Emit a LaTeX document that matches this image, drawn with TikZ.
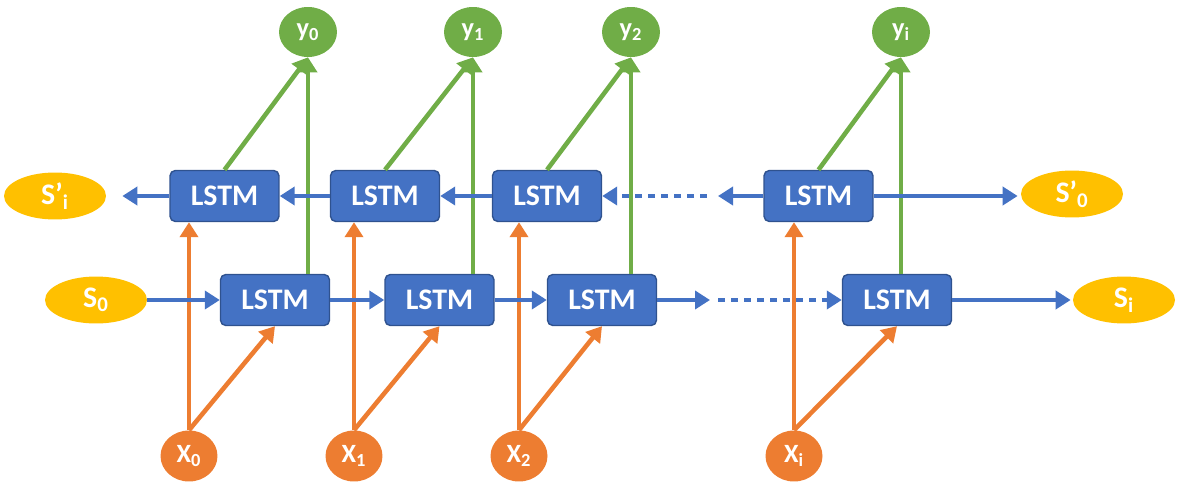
\documentclass[tikz,border=0pt]{standalone}
\usepackage{fontspec}
\setmainfont{Carlito}
\usetikzlibrary{arrows.meta,shapes.geometric}
\definecolor{lstmblue}{HTML}{4472C4}
\definecolor{lstmedge}{HTML}{2F528F}
\definecolor{outgreen}{HTML}{70AD47}
\definecolor{inorange}{HTML}{ED7D31}
\definecolor{stategold}{HTML}{FFC000}

\begin{document}
\begin{tikzpicture}[x=0.02cm,y=-0.02cm]
\tikzset{cell/.style = {shape=rectangle,rounded corners=3pt,draw=lstmedge,line width=0.8pt,fill=lstmblue,text=white,font=\fontsize{17}{20}\selectfont\bfseries,minimum width=2.18cm,minimum height=1.02cm}}
\tikzset{state/.style = {shape=ellipse,fill=stategold,text=white,font=\fontsize{17}{20}\selectfont\bfseries,minimum width=2.04cm,minimum height=0.94cm,inner sep=0pt}}
\tikzset{outp/.style = {shape=ellipse,fill=outgreen,text=white,font=\fontsize{15}{18}\selectfont\bfseries,minimum width=1.16cm,minimum height=1.0cm,inner sep=0pt}}
\tikzset{inp/.style = {shape=ellipse,fill=inorange,text=white,font=\fontsize{15}{18}\selectfont\bfseries,minimum width=1.14cm,minimum height=1.02cm,inner sep=0pt}}
\tikzset{flow/.style = {draw=lstmblue,line width=2.3pt,-{Triangle[length=0.3cm,width=0.36cm]}}}
\tikzset{dots/.style = {draw=lstmblue,line width=2.3pt,dash pattern=on 4pt off 3.4pt,-{Triangle[length=0.3cm,width=0.36cm]}}}
\tikzset{up/.style = {draw=outgreen,line width=2.6pt,-{Triangle[length=0.3cm,width=0.36cm]}}}
\tikzset{feed/.style = {draw=inorange,line width=2.6pt,-{Triangle[length=0.3cm,width=0.36cm]}}}

\useasboundingbox (0,0) rectangle (1180,483);

% bidirectional LSTM unrolled over time
\node[cell] (top1) at (224.5,196) {LSTM};
\node[cell] (top2) at (385,196) {LSTM};
\node[cell] (top3) at (547,196) {LSTM};
\node[cell] (top4) at (818.5,196) {LSTM};
\node[cell] (bot1) at (275,300) {LSTM};
\node[cell] (bot2) at (439.5,300) {LSTM};
\node[cell] (bot3) at (602,300) {LSTM};
\node[cell] (bot4) at (897,300) {LSTM};

\node[state] (spi) at (55,196) {S’\textsubscript{i}};
\node[state] (sp0) at (1072,194) {S’\textsubscript{0}};
\node[state] (s0) at (96,300) {S\textsubscript{0}};
\node[state] (si) at (1124,300) {S\textsubscript{i}};

\node[outp] (y0) at (308,32) {y\textsubscript{0}};
\node[outp] (y1) at (473,32) {y\textsubscript{1}};
\node[outp] (y2) at (631,32) {y\textsubscript{2}};
\node[outp] (yi) at (901,32) {y\textsubscript{i}};

\node[inp] (x0) at (189,456) {X\textsubscript{0}};
\node[inp] (x1) at (354,456) {X\textsubscript{1}};
\node[inp] (x2) at (519,456) {X\textsubscript{2}};
\node[inp] (xi) at (794,456) {X\textsubscript{i}};

\coordinate (tgap) at (718,196);
\coordinate (tdot) at (707,196);
\coordinate (bgap) at (710,300);
\coordinate (bdot) at (718,300);

\draw[feed] (x0.north) -- (x0.north |- top1.south);
\draw[feed] (x0.north) -- (bot1.south);
\draw[feed] (x1.north) -- (x1.north |- top2.south);
\draw[feed] (x1.north) -- (bot2.south);
\draw[feed] (x2.north) -- (x2.north |- top3.south);
\draw[feed] (x2.north) -- (bot3.south);
\draw[feed] (xi.north) -- (xi.north |- top4.south);
\draw[feed] (xi.north) -- (bot4.south);

\draw[up] (bot1.north -| y0.south) -- (y0.south);
\draw[up] (top1.north) -- (y0.south);
\draw[up] (bot2.north -| y1.south) -- (y1.south);
\draw[up] (top2.north) -- (y1.south);
\draw[up] (bot3.north -| y2.south) -- (y2.south);
\draw[up] (top3.north) -- (y2.south);
\draw[up] (bot4.north -| yi.south) -- (yi.south);
\draw[up] (top4.north) -- (yi.south);

\draw[flow,shorten >=0.32cm] (top1.west) -- (spi.east);
\draw[flow] (top2.west) -- (top1.east);
\draw[flow] (top3.west) -- (top2.east);
\draw[flow] (top4.west) -- (tgap);
\draw[dots] (tdot) -- (top3.east);
\draw[flow,shorten >=0.06cm] (top4.east) -- (sp0.west |- top4.east);

\draw[flow] (s0.east) -- (bot1.west);
\draw[flow] (bot1.east) -- (bot2.west);
\draw[flow] (bot2.east) -- (bot3.west);
\draw[flow] (bot3.east) -- (bgap);
\draw[dots] (bdot) -- (bot4.west);
\draw[flow,shorten >=0.04cm] (bot4.east) -- (si.west);

\end{tikzpicture}
\end{document}
